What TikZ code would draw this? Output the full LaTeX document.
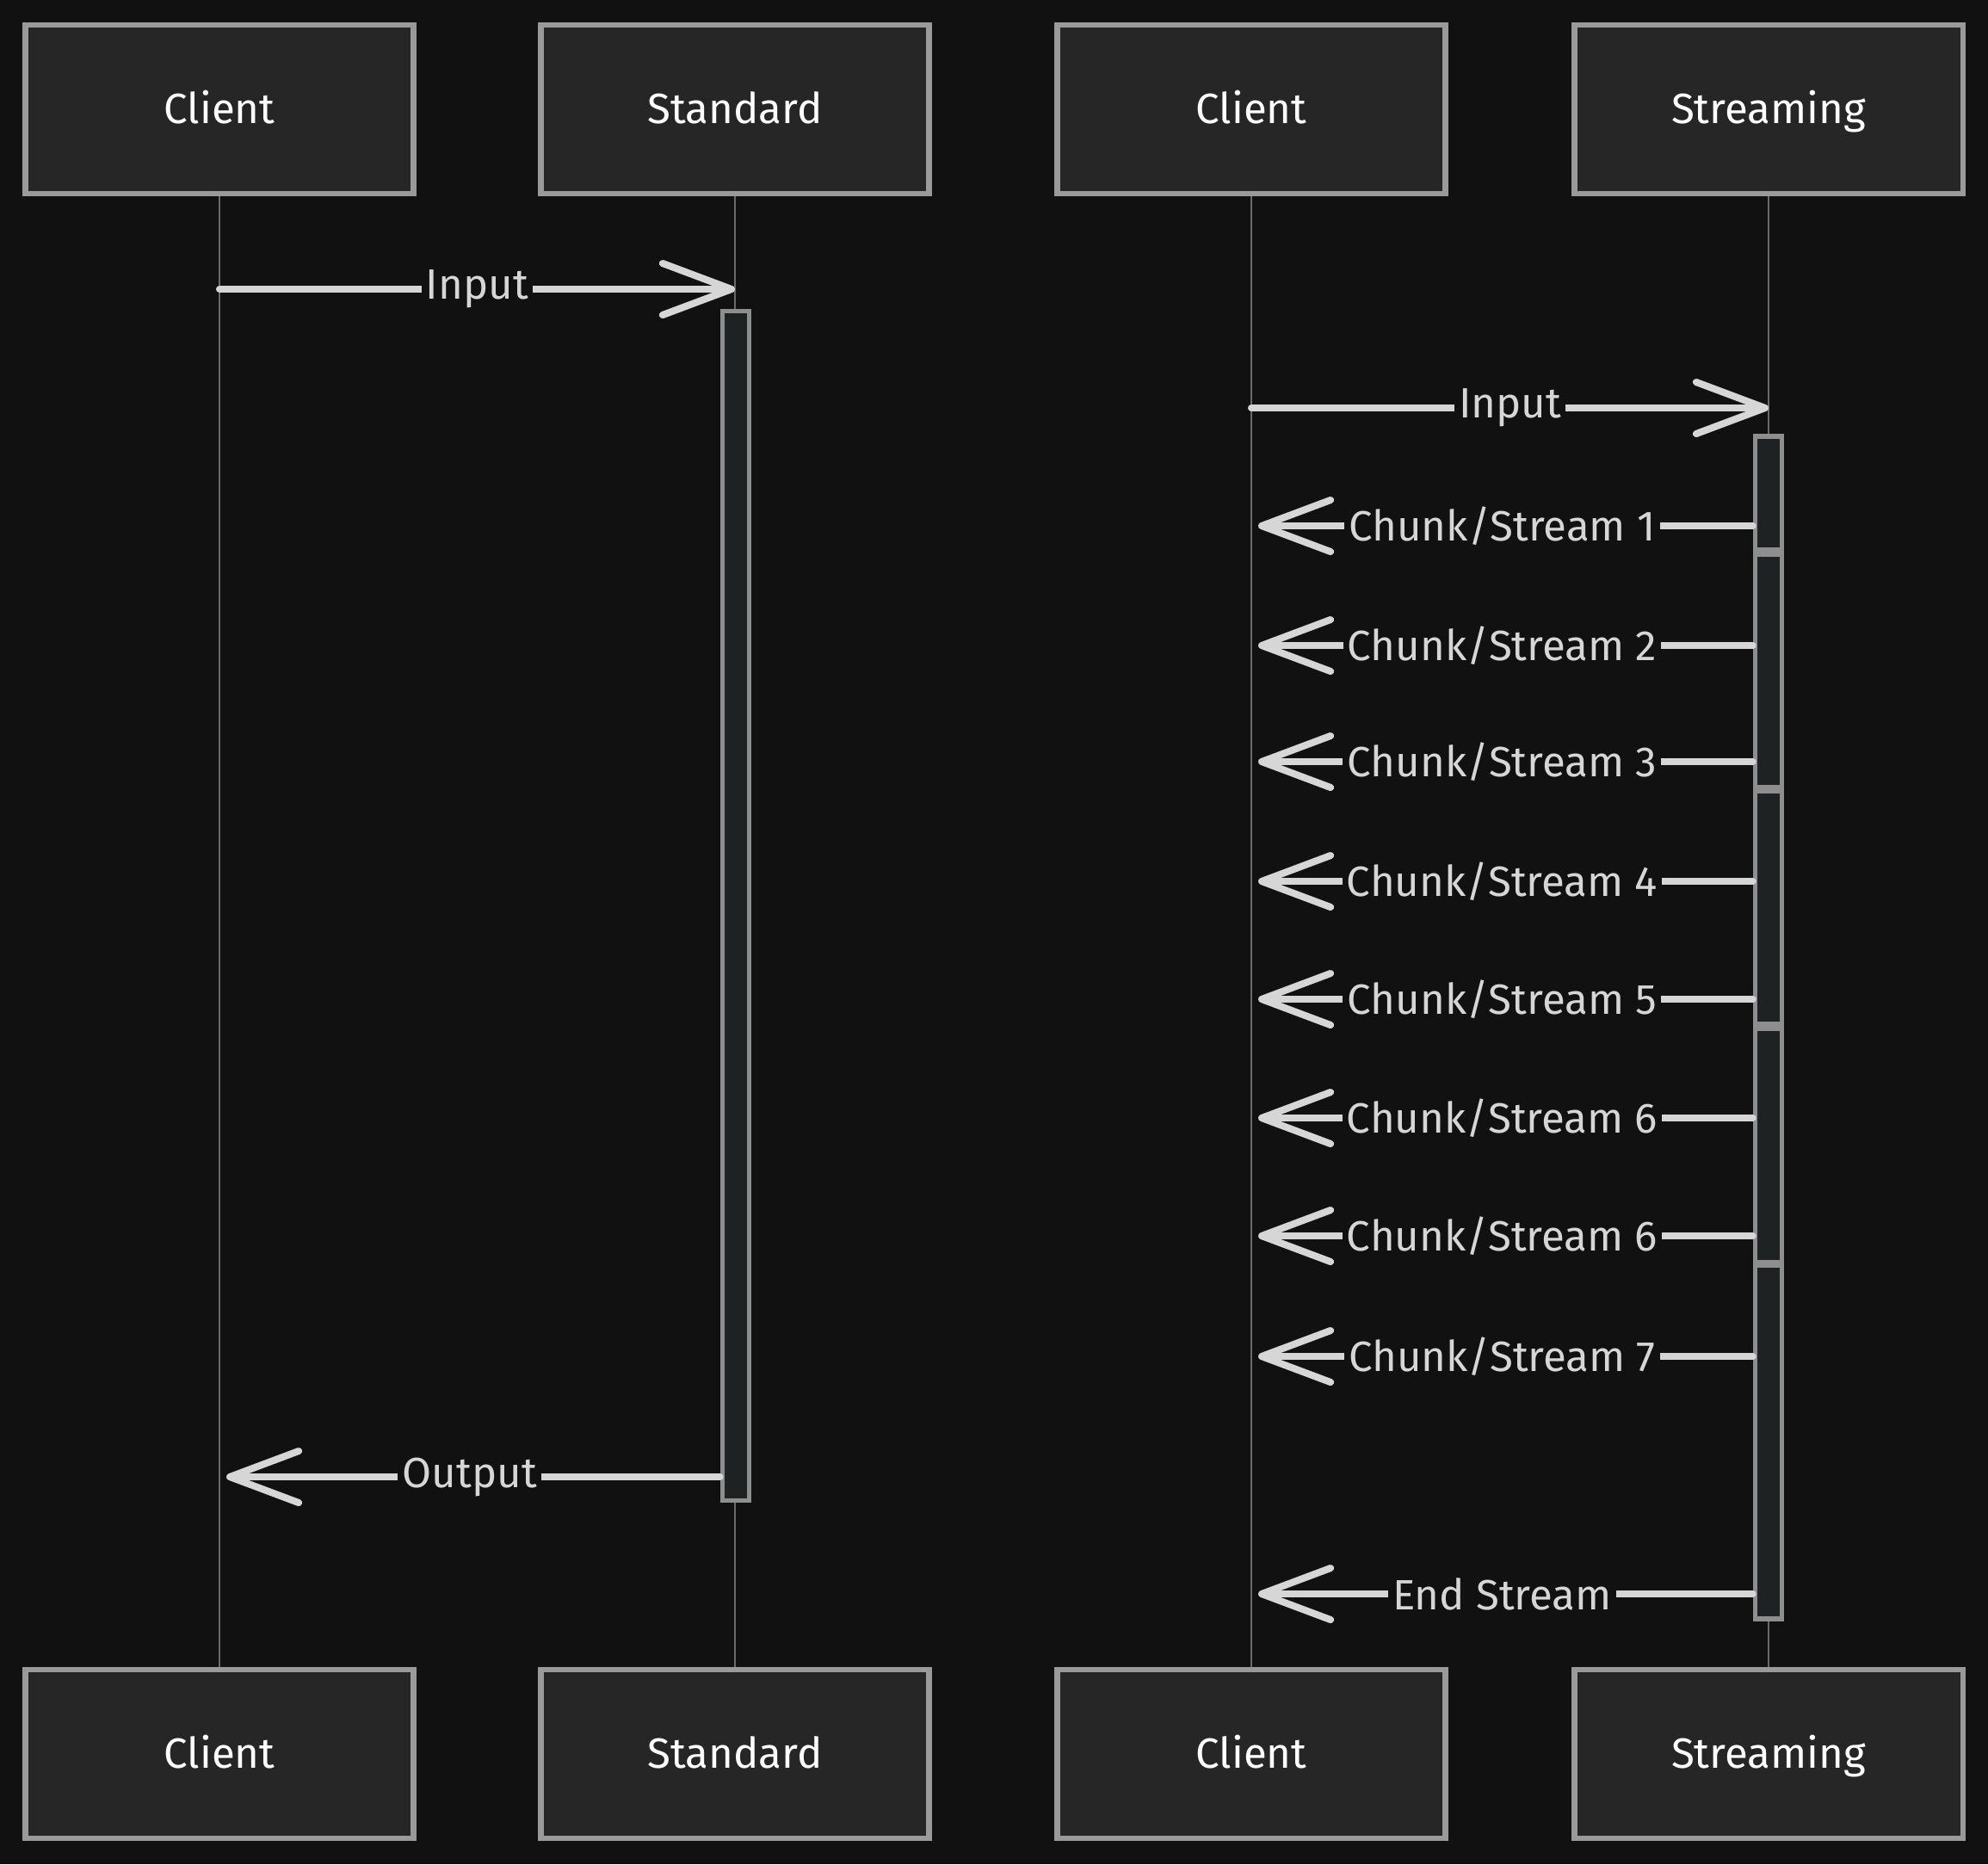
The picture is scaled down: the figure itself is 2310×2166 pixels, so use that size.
\documentclass[tikz,border=0pt]{standalone}
\usepackage{fontspec}
\setmainfont{Fira Sans}
\usetikzlibrary{arrows.meta}

\definecolor{bgdark}{HTML}{111111}
\definecolor{boxfill}{HTML}{262626}
\definecolor{boxline}{HTML}{9A9A9A}
\definecolor{lifecol}{HTML}{6A6A6A}
\definecolor{barfill}{HTML}{1F2223}
\definecolor{barline}{HTML}{8E8E8E}
\definecolor{msgcol}{HTML}{D6D6D6}

\tikzset{
  actor/.style={draw=boxline, line width=1.8pt, fill=boxfill, minimum width=4.51cm,
    minimum height=1.96cm, inner sep=0pt, text=white, text height=2.2ex, text depth=0.4ex,
    font=\fontsize{14}{17}\selectfont},
  life/.style={draw=lifecol, line width=0.6pt},
  actbar/.style={draw=barline, line width=1.6pt, fill=barfill, minimum width=0.31cm, inner sep=0pt},
  msg/.style={draw=msgcol, line width=2.3pt, line cap=round,
    -{Straight Barb[length=8mm,width=6mm,round]}},
  back/.style={shorten >=0.08cm},
  lbl/.style={fill=bgdark, text=msgcol, inner sep=1.5pt, font=\fontsize{14}{17}\selectfont}
}

\begin{document}
\begin{tikzpicture}[x=0.01cm,y=-0.01cm]
\fill[bgdark] (0,0) rectangle (2310,2166);

% participants
\node[actor] (cl1) at (255,127) {Client};
\node[actor] (st1) at (854,127) {Standard};
\node[actor] (cl2) at (1454,127) {Client};
\node[actor] (sm1) at (2055,127) {Streaming};
\node[actor] (cl1b) at (255,2038) {Client};
\node[actor] (st1b) at (854,2038) {Standard};
\node[actor] (cl2b) at (1454,2038) {Client};
\node[actor] (sm1b) at (2055,2038) {Streaming};

% lifelines
\draw[life] (cl1.south) -- (cl1b.north);
\draw[life] (st1.south) -- (st1b.north);
\draw[life] (cl2.south) -- (cl2b.north);
\draw[life] (sm1.south) -- (sm1b.north);

% activations
\node[actbar, minimum height=13.81cm] (stbar) at (855,1052.5) {};
\node[actbar, minimum height=1.32cm] (sb1) at (2055,573) {};
\node[actbar, minimum height=2.71cm] (sb2) at (2055,779.5) {};
\node[actbar, minimum height=2.71cm] (sb3) at (2055,1054.5) {};
\node[actbar, minimum height=2.72cm] (sb4) at (2055,1331) {};
\node[actbar, minimum height=4.11cm] (sb5) at (2055,1675.5) {};

% standard request
\coordinate (inA) at (0,336);
\coordinate (outA) at (0,1716);
\draw[msg] (cl1 |- inA) -- node[lbl]{Input} (st1 |- inA);
\draw[msg,back] (stbar.west |- outA) -- node[lbl]{Output} (cl1 |- outA);

% streaming request
\coordinate (inB) at (0,474);
\coordinate (ch1) at (0,611);
\coordinate (ch2) at (0,750);
\coordinate (ch3) at (0,885);
\coordinate (ch4) at (0,1024);
\coordinate (ch5) at (0,1161);
\coordinate (ch6) at (0,1299);
\coordinate (ch6b) at (0,1436);
\coordinate (ch7) at (0,1576);
\coordinate (endB) at (0,1852);
\draw[msg] (cl2 |- inB) -- node[lbl]{Input} (sm1 |- inB);
\draw[msg,back] (sb1.west |- ch1) -- node[lbl]{Chunk/Stream 1} (cl2 |- ch1);
\draw[msg,back] (sb2.west |- ch2) -- node[lbl]{Chunk/Stream 2} (cl2 |- ch2);
\draw[msg,back] (sb2.west |- ch3) -- node[lbl]{Chunk/Stream 3} (cl2 |- ch3);
\draw[msg,back] (sb3.west |- ch4) -- node[lbl]{Chunk/Stream 4} (cl2 |- ch4);
\draw[msg,back] (sb3.west |- ch5) -- node[lbl]{Chunk/Stream 5} (cl2 |- ch5);
\draw[msg,back] (sb4.west |- ch6) -- node[lbl]{Chunk/Stream 6} (cl2 |- ch6);
\draw[msg,back] (sb4.west |- ch6b) -- node[lbl]{Chunk/Stream 6} (cl2 |- ch6b);
\draw[msg,back] (sb5.west |- ch7) -- node[lbl]{Chunk/Stream 7} (cl2 |- ch7);
\draw[msg,back] (sb5.west |- endB) -- node[lbl]{End Stream} (cl2 |- endB);
\end{tikzpicture}
\end{document}
